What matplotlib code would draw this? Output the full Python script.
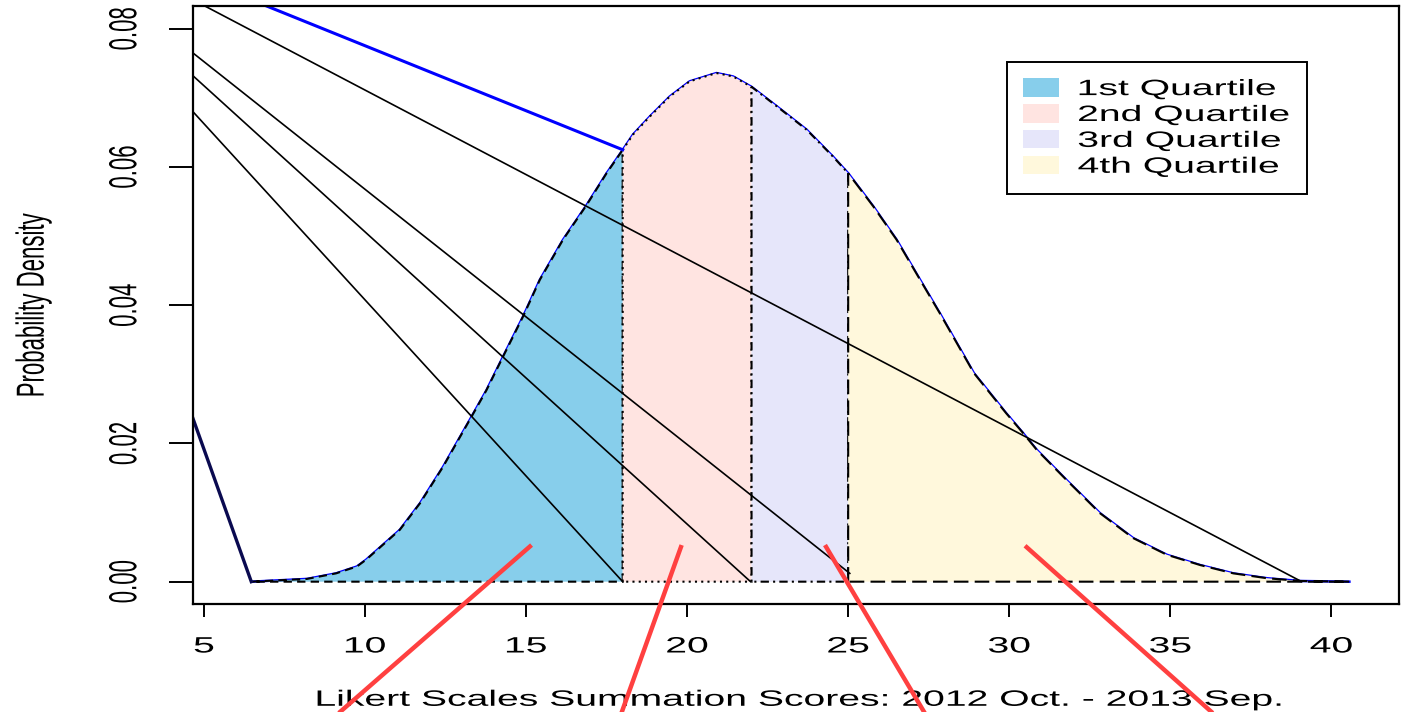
import numpy as np
import matplotlib.pyplot as plt
from matplotlib.patches import Patch
from matplotlib.patheffects import AbstractPathEffect
from matplotlib.transforms import Affine2D

plt.rcParams['font.family'] = ['Liberation Sans', 'DejaVu Sans']

# density curve
curve_x = [6.47, 8.2, 9.1, 9.75, 10.04, 11.08, 11.7, 12.42, 13.25, 13.77, 14.29, 14.91,
           15.43, 16.15, 16.88, 17.5, 17.96, 18.32, 18.84, 19.46, 20.08, 20.91, 21.43,
           22.0, 22.78, 23.71, 24.53, 25.0, 25.78, 26.5, 27.23, 27.85, 28.9, 29.9,
           30.43, 30.85, 31.78, 32.82, 33.85, 34.89, 35.93, 36.96, 38.0, 39.03, 40.56]
curve_y = [0.0, 0.0004, 0.0012, 0.0022, 0.0032, 0.0075, 0.0113, 0.0166, 0.0234, 0.0277,
           0.0326, 0.0384, 0.0437, 0.0495, 0.0545, 0.0591, 0.0622, 0.0647, 0.0673,
           0.0702, 0.0724, 0.0736, 0.0731, 0.0716, 0.0688, 0.0654, 0.0615, 0.0591,
           0.0543, 0.0495, 0.0437, 0.0388, 0.0302, 0.0244, 0.0215, 0.0191, 0.0147,
           0.0099, 0.0063, 0.0039, 0.0024, 0.0012, 0.0005, 0.0001, 0.0]

# quartiles
quart_edges = [6.47, 18.0, 22.0, 25.0, 40.56]
quart_labels = ['1st Quartile', '2nd Quartile', '3rd Quartile', '4th Quartile']
quart_colors = ['#87CEEB', '#FFE4E1', '#E6E6FA', '#FFF8DC']
quart_styles = [(0, (4, 2.5)), (0, (1, 2)), (0, (1, 2, 4, 2)), (0, (7, 3))]

# straight black segments from the left edge
black_x0 = [4.66, 4.66, 4.66, 4.66]
black_y0 = [0.0842, 0.0765, 0.0732, 0.0680]
black_x1 = [39.08, 25.05, 21.97, 18.0]
black_y1 = [0.0, 0.0012, 0.0, 0.0]

# blue segment and dark segment
blue_x = [4.66, 18.0]
blue_y = [0.0876, 0.0625]
navy_x = [4.66, 6.47]
navy_y = [0.0236, 0.0]

# red pointer lines (run off the bottom of the figure)
red_x0 = [15.17, 19.83, 24.28, 30.49]
red_y0 = [0.0053, 0.0053, 0.0053, 0.0052]
red_x1 = [7.71, 17.5, 28.14, 37.76]
red_y1 = [-0.025, -0.025, -0.025, -0.025]

xticks = [5, 10, 15, 20, 25, 30, 35, 40]
yticks = [0.0, 0.02, 0.04, 0.06, 0.08]
ytick_labels = ['0.00', '0.02', '0.04', '0.06', '0.08']


class HStretch(AbstractPathEffect):
    # widen text horizontally, like the stretched original image
    def __init__(self, sx=1.76, anchor='center'):
        super().__init__()
        self.sx = sx
        self.anchor = anchor

    def draw_path(self, renderer, gc, tpath, affine, rgbFace=None):
        ext = tpath.get_extents(affine)
        x0 = ext.x0 if self.anchor == 'left' else 0.5 * (ext.x0 + ext.x1)
        aff = affine + Affine2D().translate(-x0, 0).scale(self.sx, 1).translate(x0, 0)
        renderer.draw_path(gc, tpath, aff, rgbFace)


fig = plt.figure(figsize=(14.01, 7.12), dpi=100)
ax = fig.add_axes([193 / 1401, 108 / 712, 1206 / 1401, 598 / 712])

cx = np.array(curve_x)
cy = np.array(curve_y)

ax.plot(cx, cy, color='blue', lw=1.8, zorder=0.9)

for i in range(4):
    lo, hi = quart_edges[i], quart_edges[i + 1]
    inside = (cx > lo) & (cx < hi)
    px = np.concatenate([[lo, lo], cx[inside], [hi, hi]])
    py = np.concatenate([[0, np.interp(lo, cx, cy)], cy[inside], [np.interp(hi, cx, cy), 0]])
    ax.fill(px, py, facecolor=quart_colors[i], edgecolor='black',
            linestyle=quart_styles[i], lw=1.5, zorder=1)

for x0, y0, x1, y1 in zip(black_x0, black_y0, black_x1, black_y1):
    ax.plot([x0, x1], [y0, y1], color='black', lw=1.2, zorder=2)

ax.plot(blue_x, blue_y, color='blue', lw=2.2, zorder=2)
ax.plot(navy_x, navy_y, color='#0a0a50', lw=2.4, zorder=2)

for x0, y0, x1, y1 in zip(red_x0, red_y0, red_x1, red_y1):
    ax.plot([x0, x1], [y0, y1], color='#FF4040', lw=3.2, zorder=4,
            clip_on=False, solid_capstyle='butt')

ax.set_xlim(4.66, 42.1)
ax.set_ylim(-0.00323, 0.0833)
ax.set_xticks(xticks)
ax.set_yticks(yticks)
ax.set_yticklabels(ytick_labels)
for s in ax.spines.values():
    s.set_linewidth(1.6)
ax.tick_params(axis='x', length=9.4, width=1.4, pad=14, labelsize=16)
ax.tick_params(axis='y', length=17, width=1.4, pad=32, labelsize=16)
for lbl in ax.get_yticklabels():
    lbl.set_rotation(90)
    lbl.set_ha('center')
    lbl.set_va('center')
    lbl.set_path_effects([HStretch()])
for lbl in ax.get_xticklabels():
    lbl.set_path_effects([HStretch()])

ax.set_xlabel('Likert Scales Summation Scores: 2012 Oct. - 2013 Sep.', fontsize=16,
              va='center', path_effects=[HStretch()])
ax.xaxis.set_label_coords(0.503, -0.161)
ax.set_ylabel('Probability Density', fontsize=16, va='center', path_effects=[HStretch()])
ax.yaxis.set_label_coords(-0.132, 0.5)

handles = [Patch(facecolor=c, edgecolor='none') for c in quart_colors]
leg = ax.legend(handles, quart_labels, loc='upper left', mode='expand',
                bbox_to_anchor=(0.675, 0.686, 0.249, 0.22), fontsize=16,
                fancybox=False, framealpha=1, edgecolor='black', borderpad=0.72,
                handlelength=1.62, handleheight=0.9, handletextpad=0.85,
                labelspacing=0.18, borderaxespad=0)
leg.get_frame().set_linewidth(1.4)
for t in leg.get_texts():
    t.set_path_effects([HStretch(anchor='left')])

fig.savefig('out.png', dpi=100)
